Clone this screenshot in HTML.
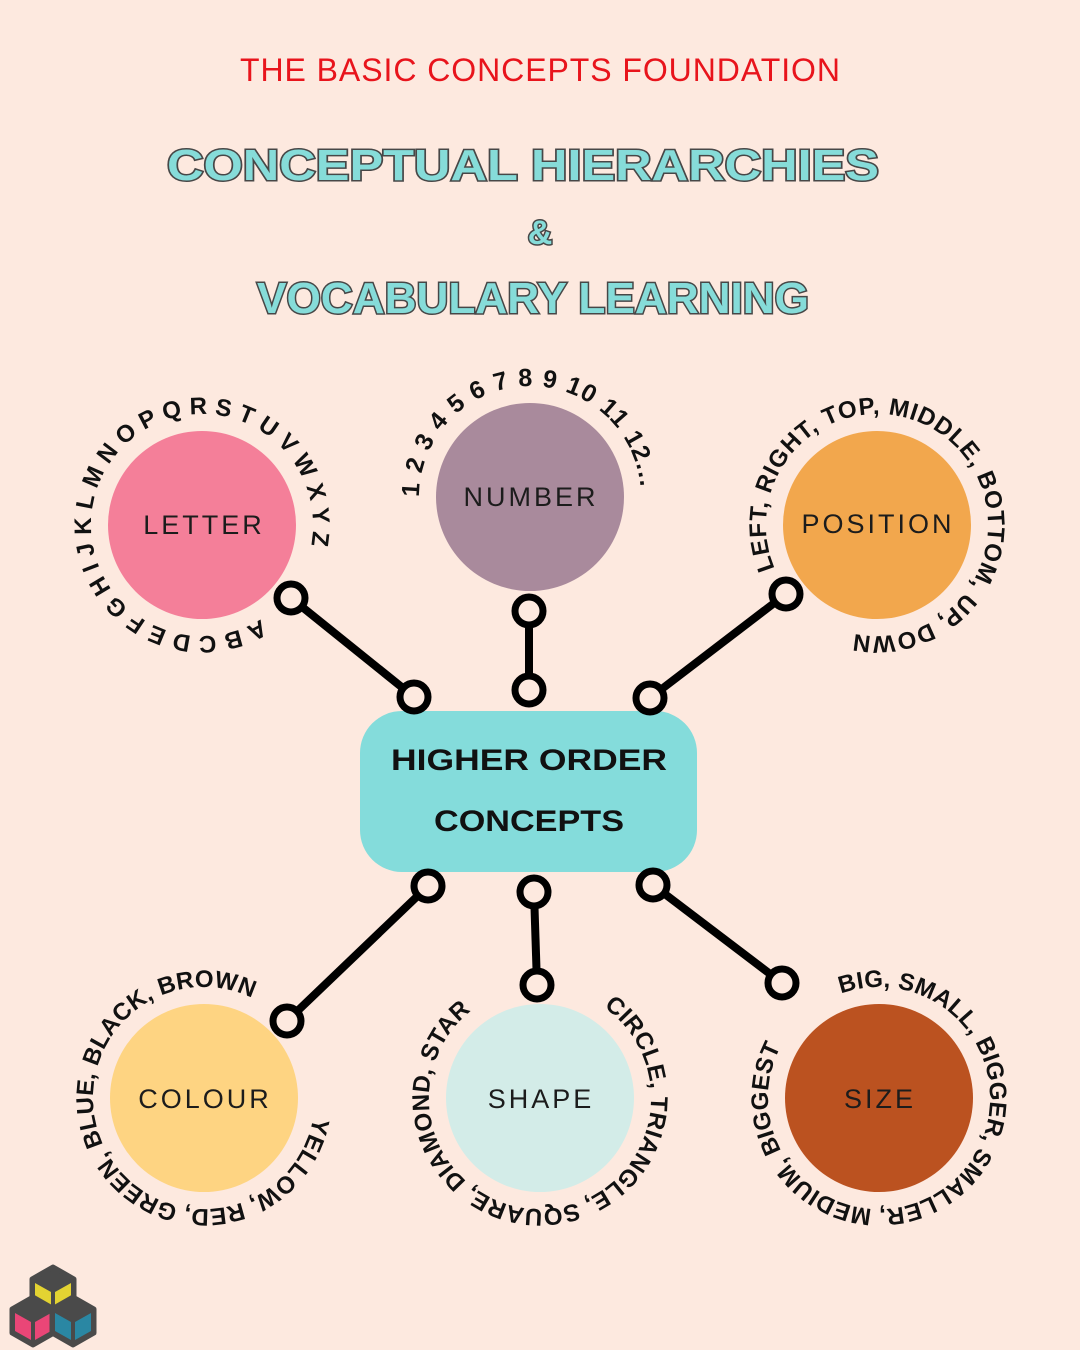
<!DOCTYPE html>
<html><head><meta charset="utf-8"><style>
html,body{margin:0;padding:0;background:#fde9df;}
svg{display:block;}
.arc{font-family:"Liberation Sans",sans-serif;font-weight:bold;font-size:24px;fill:#111;}
.lbl{font-family:"Liberation Sans",sans-serif;font-size:27px;fill:#1c1c1c;letter-spacing:3px;text-anchor:middle;}
.big{font-family:"Liberation Sans",sans-serif;font-weight:bold;font-size:44px;fill:#86dcd9;stroke:#474747;stroke-width:3;paint-order:stroke;text-anchor:middle;}
</style></head><body>
<svg width="1080" height="1350" viewBox="0 0 1080 1350" xmlns="http://www.w3.org/2000/svg">
<defs>
<path id="c" d="M111,0 A111,111 0 1 1 -111,0 A111,111 0 1 1 111,0"/>
</defs>
<rect width="1080" height="1350" fill="#fde9df"/>
<text x="540" y="81" text-anchor="middle" font-family="Liberation Sans, sans-serif" font-size="32" fill="#e8141c" textLength="600" lengthAdjust="spacing">THE BASIC CONCEPTS FOUNDATION</text>
<text class="big" x="523" y="180" textLength="712" lengthAdjust="spacingAndGlyphs">CONCEPTUAL HIERARCHIES</text>
<text class="big" x="540" y="244" style="font-size:34px">&amp;</text>
<text class="big" x="533" y="313" textLength="552" lengthAdjust="spacingAndGlyphs">VOCABULARY LEARNING</text>

<g stroke="#000" stroke-width="8" fill="none">
<line x1="291" y1="598" x2="414" y2="697"/>
<line x1="529" y1="611" x2="529" y2="690"/>
<line x1="786" y1="594" x2="650" y2="698"/>
<line x1="428" y1="886" x2="287" y2="1021"/>
<line x1="534" y1="892" x2="537" y2="985"/>
<line x1="653" y1="885" x2="782" y2="983"/>
</g>
<rect x="360" y="711" width="337" height="161" rx="42" fill="#84dcdb"/>
<g stroke="#000" stroke-width="7" fill="#fde9df">
<circle cx="291" cy="598" r="14"/><circle cx="414" cy="697" r="14"/>
<circle cx="529" cy="611" r="14"/><circle cx="529" cy="690" r="14"/>
<circle cx="786" cy="594" r="14"/><circle cx="650" cy="698" r="14"/>
<circle cx="428" cy="886" r="14"/><circle cx="287" cy="1021" r="14"/>
<circle cx="534" cy="892" r="14"/><circle cx="537" cy="985" r="14"/>
<circle cx="653" cy="885" r="14"/><circle cx="782" cy="983" r="14"/>
</g>
<text x="529" y="770" text-anchor="middle" font-family="Liberation Sans, sans-serif" font-weight="bold" font-size="30" fill="#111" textLength="276" lengthAdjust="spacingAndGlyphs">HIGHER ORDER</text>
<text x="529" y="831" text-anchor="middle" font-family="Liberation Sans, sans-serif" font-weight="bold" font-size="30" fill="#111" textLength="190" lengthAdjust="spacingAndGlyphs">CONCEPTS</text>

<circle cx="202" cy="525" r="94" fill="#f47f99"/>
<circle cx="530" cy="497" r="94" fill="#a98a9c"/>
<circle cx="877" cy="525" r="94" fill="#f2a74d"/>
<circle cx="204" cy="1098" r="94" fill="#fed482"/>
<circle cx="540" cy="1098" r="94" fill="#d3ece8"/>
<circle cx="879" cy="1098" r="94" fill="#bb5220"/>
<text class="lbl" x="204" y="534">LETTER</text>
<text class="lbl" x="531" y="506">NUMBER</text>
<text class="lbl" x="878" y="533">POSITION</text>
<text class="lbl" x="205" y="1108">COLOUR</text>
<text class="lbl" x="541" y="1108">SHAPE</text>
<text class="lbl" x="880" y="1108">SIZE</text>

<g transform="translate(202,525) rotate(58)"><text class="arc"><textPath href="#c" textLength="605" lengthAdjust="spacing">A B C D E F G H I J K L M N O P Q R S T U V W X Y Z</textPath></text></g>
<g transform="translate(530,497) rotate(180)"><text class="arc" style="font-size:25px"><textPath href="#c" textLength="338" lengthAdjust="spacing">1 2 3 4 5 6 7 8 9 10 11 12...</textPath></text></g>
<g transform="translate(877,525) rotate(157)"><text class="arc"><textPath href="#c" textLength="590" lengthAdjust="spacing">LEFT, RIGHT, TOP, MIDDLE, BOTTOM, UP, DOWN</textPath></text></g>
<g transform="translate(204,1098) rotate(10)"><text class="arc"><textPath href="#c" textLength="553" lengthAdjust="spacing">YELLOW, RED, GREEN, BLUE, BLACK, BROWN</textPath></text></g>
<g transform="translate(540,1098) rotate(-55)"><text class="arc"><textPath href="#c" textLength="555" lengthAdjust="spacing">CIRCLE, TRIANGLE, SQUARE, DIAMOND, STAR</textPath></text></g>
<g transform="translate(879,1098) rotate(-110)"><text class="arc"><textPath href="#c" textLength="615" lengthAdjust="spacing">BIG, SMALL, BIGGER, SMALLER, MEDIUM, BIGGEST</textPath></text></g>

<g stroke="#4a4a4a" stroke-width="5" stroke-linejoin="round">
<polygon points="53,1267 74,1279 74,1303 53,1315 32,1303 32,1279" fill="#4a4a4a"/>
<polygon points="35,1283 51,1292 51,1310 35,1301" fill="#e3d332" stroke="none"/>
<polygon points="55,1292 71,1283 71,1301 55,1310" fill="#e3d332" stroke="none"/>
<polygon points="33,1297 54,1309 54,1333 33,1345 12,1333 12,1309" fill="#4a4a4a"/>
<polygon points="15,1313 31,1322 31,1340 15,1331" fill="#ea4677" stroke="none"/>
<polygon points="35,1322 51,1313 51,1331 35,1340" fill="#ea4677" stroke="none"/>
<polygon points="73,1297 94,1309 94,1333 73,1345 52,1333 52,1309" fill="#4a4a4a"/>
<polygon points="55,1313 71,1322 71,1340 55,1331" fill="#2a87a3" stroke="none"/>
<polygon points="75,1322 91,1313 91,1331 75,1340" fill="#2a87a3" stroke="none"/>
</g>
</svg>
</body></html>
